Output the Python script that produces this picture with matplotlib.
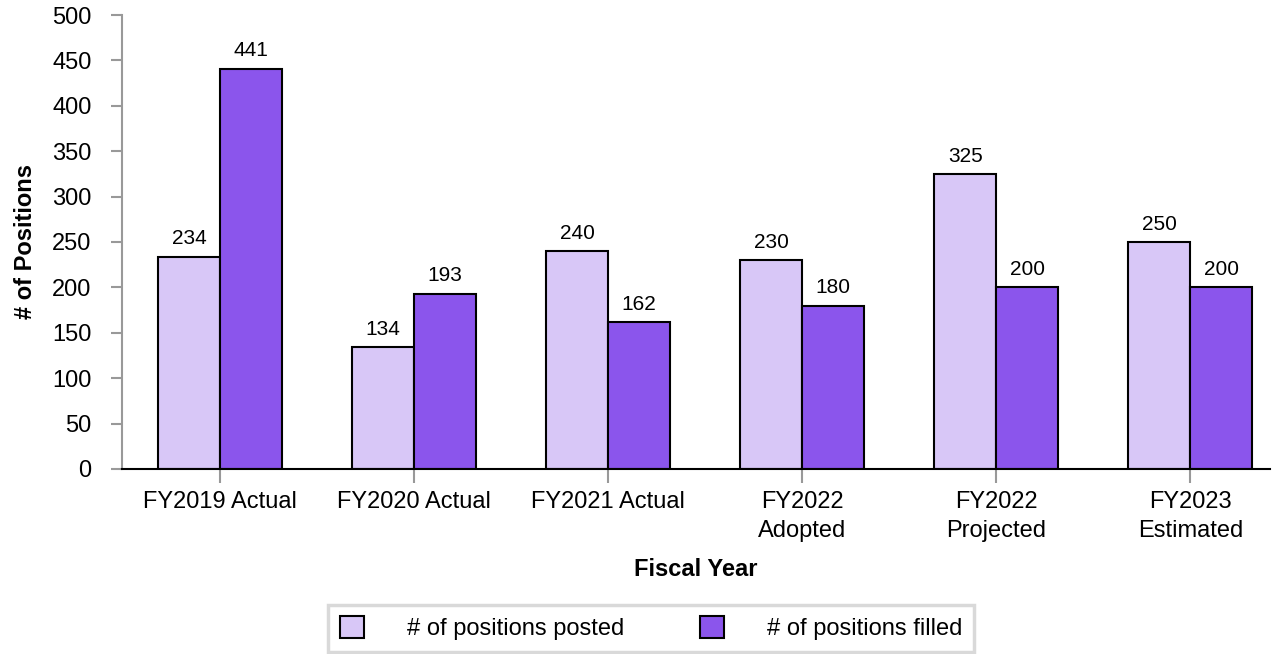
import numpy as np
import matplotlib.pyplot as plt

plt.rcParams['font.family'] = ['Liberation Sans', 'DejaVu Sans']

# Data
categories = ["FY2019 Actual", "FY2020 Actual", "FY2021 Actual",
              "FY2022\nAdopted", "FY2022\nProjected", "FY2023\nEstimated"]
posted = [234, 134, 240, 230, 325, 250]
filled = [441, 193, 162, 180, 200, 200]

col_posted = '#D8C7F7'
col_filled = '#8B55EC'

fig = plt.figure(figsize=(12.84, 6.54), dpi=100)
ax = fig.add_axes([0.095, 0.283, 0.894, 0.694])

x = np.arange(len(categories))
w = 0.32
b1 = ax.bar(x - w / 2, posted, w, color=col_posted, edgecolor='black', linewidth=1.5,
            label='# of positions posted')
b2 = ax.bar(x + w / 2, filled, w, color=col_filled, edgecolor='black', linewidth=1.5,
            label='# of positions filled')
ax.bar_label(b1, padding=6, fontsize=15)
ax.bar_label(b2, padding=6, fontsize=15)

ax.set_ylim(0, 500)
ax.set_yticks(range(0, 501, 50))
ax.set_xlim(-0.505, 5.41)
ax.set_xticks(x)
ax.set_xticklabels(categories, fontsize=17, linespacing=1.38)
ax.tick_params(axis='y', labelsize=17, color='#999999', length=8, width=1.5, pad=14)
ax.tick_params(axis='x', color='#999999', length=10, width=1.5, pad=6)

for s in ['top', 'right']:
    ax.spines[s].set_visible(False)
ax.spines['left'].set_color('#999999')
ax.spines['left'].set_linewidth(1.5)
ax.spines['bottom'].set_color('black')
ax.spines['bottom'].set_linewidth(1.5)

ax.set_ylabel('# of Positions', fontsize=17, fontweight='bold', labelpad=11)
ax.set_xlabel('Fiscal Year', fontsize=17, fontweight='bold', labelpad=12)

leg = fig.legend(handles=[b1, b2], loc='center', bbox_to_anchor=(0.507, 0.039),
                 ncol=2, fontsize=17, frameon=True, fancybox=False,
                 edgecolor='#d0d0d0', handlelength=1.05, handleheight=1.05,
                 columnspacing=3.2, handletextpad=1.8, borderpad=0.5,
                 borderaxespad=0)
leg.get_frame().set_linewidth(2.5)
for h in leg.legend_handles:
    h.set_linewidth(1.5)

fig.savefig('out.png', dpi=100)
